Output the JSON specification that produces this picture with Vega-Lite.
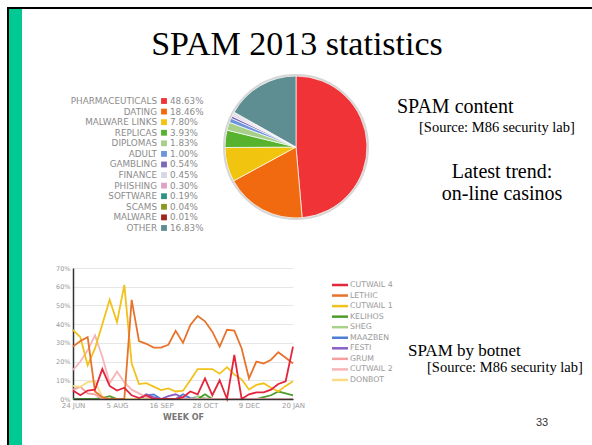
{
  "$schema": "https://vega.github.io/schema/vega-lite/v6.json",
  "padding": {"left": 7, "top": 7, "right": 0, "bottom": 0},
  "autosize": {"type": "pad"},
  "background": "white",
  "bounds": "flush",
  "spacing": 0,
  "config": {"view": {"stroke": null}},
  "datasets": {
    "content": [
      {"type": "PHARMACEUTICALS", "share": 0.4863, "rank": 1},
      {"type": "DATING", "share": 0.1846, "rank": 2},
      {"type": "MALWARE LINKS", "share": 0.0780, "rank": 3},
      {"type": "REPLICAS", "share": 0.0393, "rank": 4},
      {"type": "DIPLOMAS", "share": 0.0183, "rank": 5},
      {"type": "ADULT", "share": 0.0100, "rank": 6},
      {"type": "GAMBLING", "share": 0.0054, "rank": 7},
      {"type": "FINANCE", "share": 0.0045, "rank": 8},
      {"type": "PHISHING", "share": 0.0030, "rank": 9},
      {"type": "SOFTWARE", "share": 0.0019, "rank": 10},
      {"type": "SCAMS", "share": 0.0004, "rank": 11},
      {"type": "MALWARE", "share": 0.0001, "rank": 12},
      {"type": "OTHER", "share": 0.1683, "rank": 13}
    ],
    "botnets": [
      {"week": "2013-06-24", "botnet": "SHEG", "share": 0},
      {"week": "2013-10-14", "botnet": "SHEG", "share": 0},
      {"week": "2013-10-21", "botnet": "SHEG", "share": 1.5},
      {"week": "2013-10-28", "botnet": "SHEG", "share": 0.5},
      {"week": "2013-11-04", "botnet": "SHEG", "share": 0},
      {"week": "2014-01-20", "botnet": "SHEG", "share": 0},
      {"week": "2013-06-24", "botnet": "MAAZBEN", "share": 0},
      {"week": "2013-08-26", "botnet": "MAAZBEN", "share": 0},
      {"week": "2013-09-02", "botnet": "MAAZBEN", "share": 2},
      {"week": "2013-09-09", "botnet": "MAAZBEN", "share": 2.5},
      {"week": "2013-09-16", "botnet": "MAAZBEN", "share": 0},
      {"week": "2013-09-30", "botnet": "MAAZBEN", "share": 0},
      {"week": "2013-10-07", "botnet": "MAAZBEN", "share": 2.5},
      {"week": "2013-10-14", "botnet": "MAAZBEN", "share": 0.5},
      {"week": "2013-10-21", "botnet": "MAAZBEN", "share": 0},
      {"week": "2014-01-20", "botnet": "MAAZBEN", "share": 0},
      {"week": "2013-06-24", "botnet": "FESTI", "share": 0},
      {"week": "2013-08-26", "botnet": "FESTI", "share": 0},
      {"week": "2013-09-02", "botnet": "FESTI", "share": 2.5},
      {"week": "2013-09-09", "botnet": "FESTI", "share": 1},
      {"week": "2013-09-16", "botnet": "FESTI", "share": 0},
      {"week": "2013-09-23", "botnet": "FESTI", "share": 1.5},
      {"week": "2013-09-30", "botnet": "FESTI", "share": 2.5},
      {"week": "2013-10-07", "botnet": "FESTI", "share": 0.5},
      {"week": "2013-10-14", "botnet": "FESTI", "share": 0},
      {"week": "2014-01-20", "botnet": "FESTI", "share": 0},
      {"week": "2013-06-24", "botnet": "KELIHOS", "share": 0},
      {"week": "2013-07-15", "botnet": "KELIHOS", "share": 0},
      {"week": "2013-07-22", "botnet": "KELIHOS", "share": 0.5},
      {"week": "2013-07-29", "botnet": "KELIHOS", "share": 1.5},
      {"week": "2013-08-05", "botnet": "KELIHOS", "share": 0},
      {"week": "2013-10-21", "botnet": "KELIHOS", "share": 0},
      {"week": "2013-10-28", "botnet": "KELIHOS", "share": 2.5},
      {"week": "2013-11-04", "botnet": "KELIHOS", "share": 0},
      {"week": "2013-12-16", "botnet": "KELIHOS", "share": 0},
      {"week": "2013-12-23", "botnet": "KELIHOS", "share": 1},
      {"week": "2013-12-30", "botnet": "KELIHOS", "share": 2},
      {"week": "2014-01-06", "botnet": "KELIHOS", "share": 4},
      {"week": "2014-01-13", "botnet": "KELIHOS", "share": 3},
      {"week": "2014-01-20", "botnet": "KELIHOS", "share": 2},
      {"week": "2013-06-24", "botnet": "GRUM", "share": 5},
      {"week": "2013-07-01", "botnet": "GRUM", "share": 6.5},
      {"week": "2013-07-08", "botnet": "GRUM", "share": 3},
      {"week": "2013-07-15", "botnet": "GRUM", "share": 2.5},
      {"week": "2013-07-22", "botnet": "GRUM", "share": 0},
      {"week": "2014-01-20", "botnet": "GRUM", "share": 0},
      {"week": "2013-06-24", "botnet": "DONBOT", "share": 7},
      {"week": "2013-07-01", "botnet": "DONBOT", "share": 6.5},
      {"week": "2013-07-08", "botnet": "DONBOT", "share": 9},
      {"week": "2013-07-15", "botnet": "DONBOT", "share": 9.5},
      {"week": "2013-07-22", "botnet": "DONBOT", "share": 1},
      {"week": "2013-07-29", "botnet": "DONBOT", "share": 0},
      {"week": "2014-01-20", "botnet": "DONBOT", "share": 0},
      {"week": "2013-06-24", "botnet": "CUTWAIL 2", "share": 15.5},
      {"week": "2013-07-01", "botnet": "CUTWAIL 2", "share": 20},
      {"week": "2013-07-08", "botnet": "CUTWAIL 2", "share": 26},
      {"week": "2013-07-15", "botnet": "CUTWAIL 2", "share": 34},
      {"week": "2013-07-22", "botnet": "CUTWAIL 2", "share": 22.6},
      {"week": "2013-07-29", "botnet": "CUTWAIL 2", "share": 8.5},
      {"week": "2013-08-05", "botnet": "CUTWAIL 2", "share": 14.6},
      {"week": "2013-08-12", "botnet": "CUTWAIL 2", "share": 9},
      {"week": "2013-08-19", "botnet": "CUTWAIL 2", "share": 5},
      {"week": "2013-08-26", "botnet": "CUTWAIL 2", "share": 3},
      {"week": "2013-09-02", "botnet": "CUTWAIL 2", "share": 1},
      {"week": "2013-09-09", "botnet": "CUTWAIL 2", "share": 0},
      {"week": "2014-01-20", "botnet": "CUTWAIL 2", "share": 0},
      {"week": "2013-06-24", "botnet": "CUTWAIL 1", "share": 37},
      {"week": "2013-07-01", "botnet": "CUTWAIL 1", "share": 33},
      {"week": "2013-07-08", "botnet": "CUTWAIL 1", "share": 18},
      {"week": "2013-07-15", "botnet": "CUTWAIL 1", "share": 27},
      {"week": "2013-07-22", "botnet": "CUTWAIL 1", "share": 40},
      {"week": "2013-07-29", "botnet": "CUTWAIL 1", "share": 53},
      {"week": "2013-08-05", "botnet": "CUTWAIL 1", "share": 41},
      {"week": "2013-08-12", "botnet": "CUTWAIL 1", "share": 61},
      {"week": "2013-08-19", "botnet": "CUTWAIL 1", "share": 19},
      {"week": "2013-08-26", "botnet": "CUTWAIL 1", "share": 8},
      {"week": "2013-09-02", "botnet": "CUTWAIL 1", "share": 8.5},
      {"week": "2013-09-09", "botnet": "CUTWAIL 1", "share": 6.6},
      {"week": "2013-09-16", "botnet": "CUTWAIL 1", "share": 4.8},
      {"week": "2013-09-23", "botnet": "CUTWAIL 1", "share": 5.7},
      {"week": "2013-09-30", "botnet": "CUTWAIL 1", "share": 4},
      {"week": "2013-10-07", "botnet": "CUTWAIL 1", "share": 4.4},
      {"week": "2013-10-14", "botnet": "CUTWAIL 1", "share": 10},
      {"week": "2013-10-21", "botnet": "CUTWAIL 1", "share": 16},
      {"week": "2013-10-28", "botnet": "CUTWAIL 1", "share": 16},
      {"week": "2013-11-04", "botnet": "CUTWAIL 1", "share": 16},
      {"week": "2013-11-11", "botnet": "CUTWAIL 1", "share": 13.5},
      {"week": "2013-11-18", "botnet": "CUTWAIL 1", "share": 17},
      {"week": "2013-11-25", "botnet": "CUTWAIL 1", "share": 13},
      {"week": "2013-12-02", "botnet": "CUTWAIL 1", "share": 10.5},
      {"week": "2013-12-09", "botnet": "CUTWAIL 1", "share": 5},
      {"week": "2013-12-16", "botnet": "CUTWAIL 1", "share": 7.5},
      {"week": "2013-12-23", "botnet": "CUTWAIL 1", "share": 8.4},
      {"week": "2013-12-30", "botnet": "CUTWAIL 1", "share": 6},
      {"week": "2014-01-06", "botnet": "CUTWAIL 1", "share": 4},
      {"week": "2014-01-13", "botnet": "CUTWAIL 1", "share": 7},
      {"week": "2014-01-20", "botnet": "CUTWAIL 1", "share": 9.5},
      {"week": "2013-06-24", "botnet": "LETHIC", "share": 28},
      {"week": "2013-07-01", "botnet": "LETHIC", "share": 31},
      {"week": "2013-07-08", "botnet": "LETHIC", "share": 33},
      {"week": "2013-07-15", "botnet": "LETHIC", "share": 4},
      {"week": "2013-07-22", "botnet": "LETHIC", "share": 1},
      {"week": "2013-07-29", "botnet": "LETHIC", "share": 0},
      {"week": "2013-08-05", "botnet": "LETHIC", "share": 0},
      {"week": "2013-08-12", "botnet": "LETHIC", "share": 0},
      {"week": "2013-08-19", "botnet": "LETHIC", "share": 53},
      {"week": "2013-08-26", "botnet": "LETHIC", "share": 31},
      {"week": "2013-09-02", "botnet": "LETHIC", "share": 29.5},
      {"week": "2013-09-09", "botnet": "LETHIC", "share": 27.5},
      {"week": "2013-09-16", "botnet": "LETHIC", "share": 27.5},
      {"week": "2013-09-23", "botnet": "LETHIC", "share": 29},
      {"week": "2013-09-30", "botnet": "LETHIC", "share": 36.4},
      {"week": "2013-10-07", "botnet": "LETHIC", "share": 30},
      {"week": "2013-10-14", "botnet": "LETHIC", "share": 39.6},
      {"week": "2013-10-21", "botnet": "LETHIC", "share": 44.4},
      {"week": "2013-10-28", "botnet": "LETHIC", "share": 41.5},
      {"week": "2013-11-04", "botnet": "LETHIC", "share": 36},
      {"week": "2013-11-11", "botnet": "LETHIC", "share": 28},
      {"week": "2013-11-18", "botnet": "LETHIC", "share": 37},
      {"week": "2013-11-25", "botnet": "LETHIC", "share": 36.5},
      {"week": "2013-12-02", "botnet": "LETHIC", "share": 27},
      {"week": "2013-12-09", "botnet": "LETHIC", "share": 11},
      {"week": "2013-12-16", "botnet": "LETHIC", "share": 20},
      {"week": "2013-12-23", "botnet": "LETHIC", "share": 19},
      {"week": "2013-12-30", "botnet": "LETHIC", "share": 21},
      {"week": "2014-01-06", "botnet": "LETHIC", "share": 25},
      {"week": "2014-01-13", "botnet": "LETHIC", "share": 22},
      {"week": "2014-01-20", "botnet": "LETHIC", "share": 19},
      {"week": "2013-06-24", "botnet": "CUTWAIL 4", "share": 4.5},
      {"week": "2013-07-01", "botnet": "CUTWAIL 4", "share": 2},
      {"week": "2013-07-08", "botnet": "CUTWAIL 4", "share": 4.5},
      {"week": "2013-07-15", "botnet": "CUTWAIL 4", "share": 5},
      {"week": "2013-07-22", "botnet": "CUTWAIL 4", "share": 16},
      {"week": "2013-07-29", "botnet": "CUTWAIL 4", "share": 7},
      {"week": "2013-08-05", "botnet": "CUTWAIL 4", "share": 4.5},
      {"week": "2013-08-12", "botnet": "CUTWAIL 4", "share": 6},
      {"week": "2013-08-19", "botnet": "CUTWAIL 4", "share": 2},
      {"week": "2013-08-26", "botnet": "CUTWAIL 4", "share": 0.5},
      {"week": "2013-09-02", "botnet": "CUTWAIL 4", "share": 2},
      {"week": "2013-09-09", "botnet": "CUTWAIL 4", "share": 0},
      {"week": "2013-09-16", "botnet": "CUTWAIL 4", "share": 0},
      {"week": "2013-09-23", "botnet": "CUTWAIL 4", "share": 0},
      {"week": "2013-09-30", "botnet": "CUTWAIL 4", "share": 0},
      {"week": "2013-10-07", "botnet": "CUTWAIL 4", "share": 1},
      {"week": "2013-10-14", "botnet": "CUTWAIL 4", "share": 4},
      {"week": "2013-10-21", "botnet": "CUTWAIL 4", "share": 2.5},
      {"week": "2013-10-28", "botnet": "CUTWAIL 4", "share": 11},
      {"week": "2013-11-04", "botnet": "CUTWAIL 4", "share": 2},
      {"week": "2013-11-11", "botnet": "CUTWAIL 4", "share": 10},
      {"week": "2013-11-18", "botnet": "CUTWAIL 4", "share": 0},
      {"week": "2013-11-25", "botnet": "CUTWAIL 4", "share": 23.5},
      {"week": "2013-12-02", "botnet": "CUTWAIL 4", "share": 0},
      {"week": "2013-12-09", "botnet": "CUTWAIL 4", "share": 2.5},
      {"week": "2013-12-16", "botnet": "CUTWAIL 4", "share": 3.5},
      {"week": "2013-12-23", "botnet": "CUTWAIL 4", "share": 3.5},
      {"week": "2013-12-30", "botnet": "CUTWAIL 4", "share": 5},
      {"week": "2014-01-06", "botnet": "CUTWAIL 4", "share": 8},
      {"week": "2014-01-13", "botnet": "CUTWAIL 4", "share": 9.5},
      {"week": "2014-01-20", "botnet": "CUTWAIL 4", "share": 28}
    ],
    "botnetLegend": [
      {"botnet": "CUTWAIL 4", "rank": 1},
      {"botnet": "LETHIC", "rank": 2},
      {"botnet": "CUTWAIL 1", "rank": 3},
      {"botnet": "KELIHOS", "rank": 4},
      {"botnet": "SHEG", "rank": 5},
      {"botnet": "MAAZBEN", "rank": 6},
      {"botnet": "FESTI", "rank": 7},
      {"botnet": "GRUM", "rank": 8},
      {"botnet": "CUTWAIL 2", "rank": 9},
      {"botnet": "DONBOT", "rank": 10}
    ]
  },
  "vconcat": [
    {"width": 585, "height": 2, "view": {"fill": "#000000", "stroke": null}, "data": {"values": [{}]}, "mark": {"type": "text", "text": "", "fontSize": 0}},
    {
      "spacing": 0,
      "bounds": "flush",
      "hconcat": [
        {"width": 2, "height": 436, "view": {"fill": "#000000", "stroke": null}, "data": {"values": [{}]}, "mark": {"type": "text", "text": "", "fontSize": 0}},
        {"width": 13, "height": 436, "view": {"fill": "#00c994", "stroke": null}, "data": {"values": [{}]}, "mark": {"type": "text", "text": "", "fontSize": 0}},
        {
          "spacing": 0,
          "bounds": "full",
          "resolve": {"scale": {"color": "independent"}},
          "vconcat": [
            {
              "width": 570, "height": 62,
              "data": {"values": [{"t": "SPAM 2013 statistics"}]},
              "mark": {"type": "text", "font": "Liberation Serif", "fontSize": 34, "align": "center", "baseline": "alphabetic", "dx": -10, "dy": 15, "color": "#000000"},
              "encoding": {"text": {"field": "t"}}
            },
            {
              "spacing": 0,
              "bounds": "flush",
              "hconcat": [
                {"width": 135, "height": 193, "data": {"values": [{}]}, "mark": {"type": "text", "text": "", "fontSize": 0}},
                {
                  "width": 14, "height": 185,
                  "data": {"name": "content"},
                  "encoding": {"y": {"field": "rank", "type": "quantitative", "scale": {"domain": [-1.741, 15.745], "reverse": true, "nice": false, "zero": false}, "axis": null}},
                  "layer": [
                    {"mark": {"type": "text", "align": "right", "baseline": "middle", "dx": -7, "font": "DejaVu Sans", "fontSize": 8.8, "color": "#8c8c8c"}, "encoding": {"text": {"field": "type"}}},
                    {"mark": {"type": "square", "size": 34, "filled": true, "opacity": 1},
                     "encoding": {"color": {"field": "type", "type": "nominal", "legend": null, "scale": {"domain": ["PHARMACEUTICALS","DATING","MALWARE LINKS","REPLICAS","DIPLOMAS","ADULT","GAMBLING","FINANCE","PHISHING","SOFTWARE","SCAMS","MALWARE","OTHER"], "range": ["#ef3337","#f26a10","#f1c40f","#57b22e","#a6cf8a","#6d95dc","#7b68b8","#d6d6e6","#e0a2c4","#2f9384","#8b9a1e","#a3241c","#5e8d92"]}}}},
                    {"mark": {"type": "text", "align": "left", "baseline": "middle", "dx": 6, "font": "DejaVu Sans", "fontSize": 8.8, "color": "#8c8c8c"}, "encoding": {"text": {"field": "share", "format": ".2%"}}}
                  ]
                },
                {"width": 50, "height": 193, "data": {"values": [{}]}, "mark": {"type": "text", "text": "", "fontSize": 0}},
                {
                  "width": 150, "height": 150,
                  "layer": [
                    {
                      "data": {"name": "content"},
                      "mark": {"type": "arc", "outerRadius": 71, "stroke": "#ffffff", "strokeWidth": 0.7},
                      "encoding": {
                        "theta": {"field": "share", "type": "quantitative", "stack": true},
                        "order": {"field": "rank", "type": "quantitative"},
                        "color": {"field": "type", "type": "nominal", "legend": null, "scale": {"domain": ["PHARMACEUTICALS","DATING","MALWARE LINKS","REPLICAS","DIPLOMAS","ADULT","GAMBLING","FINANCE","PHISHING","SOFTWARE","SCAMS","MALWARE","OTHER"], "range": ["#ef3337","#f26a10","#f1c40f","#57b22e","#a6cf8a","#6d95dc","#7b68b8","#d6d6e6","#e0a2c4","#2f9384","#8b9a1e","#a3241c","#5e8d92"]}}
                      }
                    },
                    {
                      "data": {"values": [{}]},
                      "mark": {"type": "point", "shape": "circle", "size": 20736, "filled": false, "stroke": "#d6d6d6", "strokeWidth": 2, "opacity": 1},
                      "encoding": {}
                    }
                  ]
                },
                {
                  "width": 221, "height": 193,
                  "layer": [
                    {"data": {"values": [{"t": "SPAM content"}]}, "mark": {"type": "text", "font": "Liberation Serif", "fontSize": 20, "align": "left", "baseline": "alphabetic", "dx": -84.5, "dy": -55.5, "color": "#000000"}, "encoding": {"text": {"field": "t"}}},
                    {"data": {"values": [{"t": "[Source: M86 security lab]"}]}, "mark": {"type": "text", "font": "Liberation Serif", "fontSize": 14.5, "align": "left", "baseline": "alphabetic", "dx": -62.5, "dy": -37, "color": "#000000"}, "encoding": {"text": {"field": "t"}}},
                    {"data": {"values": [{"t": "Latest trend:"}]}, "mark": {"type": "text", "font": "Liberation Serif", "fontSize": 20, "align": "center", "baseline": "alphabetic", "dx": 20.5, "dy": 9.5, "color": "#000000"}, "encoding": {"text": {"field": "t"}}},
                    {"data": {"values": [{"t": "on-line casinos"}]}, "mark": {"type": "text", "font": "Liberation Serif", "fontSize": 20, "align": "center", "baseline": "alphabetic", "dx": 20.5, "dy": 31, "color": "#000000"}, "encoding": {"text": {"field": "t"}}}
                  ]
                }
              ]
            },
            {
              "spacing": 0,
              "bounds": "flush",
              "hconcat": [
                {"width": 51, "height": 177, "data": {"values": [{}]}, "mark": {"type": "text", "text": "", "fontSize": 0}},
                {
                  "width": 220, "height": 131,
                  "data": {"name": "botnets"},
                  "mark": {"type": "line", "strokeWidth": 1.8, "interpolate": "linear"},
                  "encoding": {
                    "x": {
                      "field": "week", "type": "temporal",
                      "scale": {"type": "utc", "domain": [{"year": 2013, "month": 6, "date": 24, "utc": true}, {"year": 2014, "month": 1, "date": 20, "utc": true}]},
                      "axis": {
                        "title": "WEEK OF",
                        "values": [
                          {"year": 2013, "month": 6, "date": 24, "utc": true},
                          {"year": 2013, "month": 8, "date": 5, "utc": true},
                          {"year": 2013, "month": 9, "date": 16, "utc": true},
                          {"year": 2013, "month": 10, "date": 28, "utc": true},
                          {"year": 2013, "month": 12, "date": 9, "utc": true},
                          {"year": 2014, "month": 1, "date": 20, "utc": true}
                        ],
                        "labelExpr": "upper(utcFormat(datum.value, '%-d %b'))",
                        "labelFont": "DejaVu Sans", "labelFontSize": 7, "labelColor": "#9a9a9a", "labelPadding": 2,
                        "labelFlush": false, "labelOverlap": false,
                        "ticks": false, "grid": false,
                        "domainColor": "#333333", "domainWidth": 1.5,
                        "titleFont": "DejaVu Sans", "titleFontSize": 8, "titleFontWeight": "bold", "titleColor": "#777777", "titlePadding": 5,
                        "zindex": 1
                      }
                    },
                    "y": {
                      "field": "share", "type": "quantitative",
                      "scale": {"domain": [0, 70], "nice": false},
                      "axis": {
                        "title": null,
                        "values": [0, 10, 20, 30, 40, 50, 60, 70],
                        "labelExpr": "datum.value + '%'",
                        "labelFont": "DejaVu Sans", "labelFontSize": 6.5, "labelColor": "#9a9a9a", "labelPadding": 3,
                        "ticks": false,
                        "gridColor": "#e6e6e6", "gridWidth": 1,
                        "domainColor": "#333333", "domainWidth": 1.5
                      }
                    },
                    "color": {
                      "field": "botnet", "type": "nominal", "legend": null,
                      "scale": {"domain": ["CUTWAIL 4","LETHIC","CUTWAIL 1","KELIHOS","SHEG","MAAZBEN","FESTI","GRUM","CUTWAIL 2","DONBOT"], "range": ["#e3263c","#e8732c","#f2c21c","#4f9b2b","#a9d38d","#4c7fd4","#8c5ec6","#f2a0a0","#f7b4b9","#f9dd86"]}
                    }
                  }
                },
                {"width": 39, "height": 177, "data": {"values": [{}]}, "mark": {"type": "text", "text": "", "fontSize": 0}},
                {
                  "width": 16, "height": 129,
                  "data": {"name": "botnetLegend"},
                  "encoding": {"y": {"field": "rank", "type": "quantitative", "scale": {"domain": [-0.611, 11.616], "reverse": true, "nice": false, "zero": false}, "axis": null}},
                  "layer": [
                    {"mark": {"type": "tick", "orient": "horizontal", "size": 16, "thickness": 2.5, "opacity": 1},
                     "encoding": {"color": {"field": "botnet", "type": "nominal", "legend": null, "scale": {"domain": ["CUTWAIL 4","LETHIC","CUTWAIL 1","KELIHOS","SHEG","MAAZBEN","FESTI","GRUM","CUTWAIL 2","DONBOT"], "range": ["#e3263c","#e8732c","#f2c21c","#4f9b2b","#a9d38d","#4c7fd4","#8c5ec6","#f2a0a0","#f7b4b9","#f9dd86"]}}}},
                    {"mark": {"type": "text", "align": "left", "baseline": "middle", "dx": 10, "font": "DejaVu Sans", "fontSize": 7.8, "color": "#9a9a9a"}, "encoding": {"text": {"field": "botnet"}}}
                  ]
                },
                {
                  "width": 244, "height": 177,
                  "layer": [
                    {"data": {"values": [{"t": "SPAM by botnet"}]}, "mark": {"type": "text", "font": "Liberation Serif", "fontSize": 17, "align": "left", "baseline": "alphabetic", "dx": -62, "dy": -0.5, "color": "#000000"}, "encoding": {"text": {"field": "t"}}},
                    {"data": {"values": [{"t": "[Source: M86 security lab]"}]}, "mark": {"type": "text", "font": "Liberation Serif", "fontSize": 14.5, "align": "left", "baseline": "alphabetic", "dx": -43, "dy": 15.5, "color": "#000000"}, "encoding": {"text": {"field": "t"}}},
                    {"data": {"values": [{"t": "33"}]}, "mark": {"type": "text", "font": "Liberation Sans", "fontSize": 11, "align": "center", "baseline": "alphabetic", "dx": 72, "dy": 69.5, "color": "#333333"}, "encoding": {"text": {"field": "t"}}}
                  ]
                }
              ]
            }
          ]
        }
      ]
    }
  ]
}
